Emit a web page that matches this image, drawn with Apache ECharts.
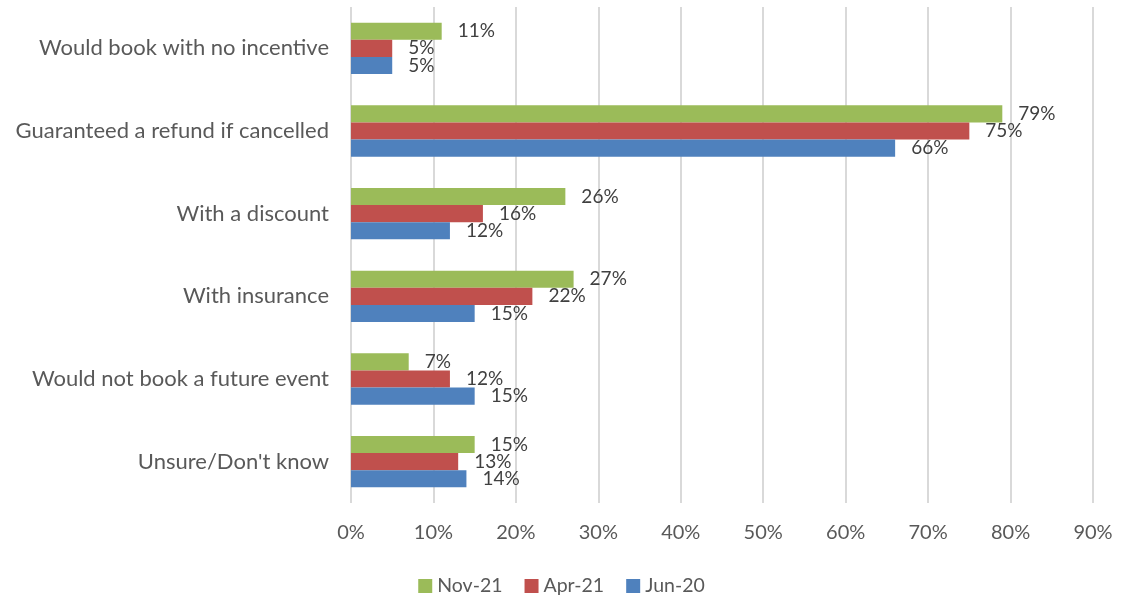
<!DOCTYPE html>
<html>
<head>
<meta charset="utf-8">
<script src="https://cdn.jsdelivr.net/npm/echarts@6/dist/echarts.min.js"></script>
<style>
  html, body { margin: 0; padding: 0; background: #fff; }
  #chart { width: 1123px; height: 605px; }
</style>
</head>
<body>
<div id="chart"></div>
<script>
// categories, top to bottom
const categories = [
  'Would book with no incentive',
  'Guaranteed a refund if cancelled',
  'With a discount',
  'With insurance',
  'Would not book a future event',
  "Unsure/Don't know"
];
const nov21 = [11, 79, 26, 27, 7, 15];
const apr21 = [5, 75, 16, 22, 12, 13];
const jun20 = [5, 66, 12, 15, 15, 14];
const xTicks = [0, 10, 20, 30, 40, 50, 60, 70, 80, 90];

const font = 'Lato';
const textColor = '#595959';

const makeSeries = (name, data, color) => ({
  name: name,
  type: 'bar',
  data: data,
  barGap: '0%',
  barCategoryGap: '38%',
  itemStyle: { color: color },
  label: {
    show: true,
    position: 'right',
    distance: 16,
    formatter: '{c}%',
    color: '#404040',
    fontFamily: font,
    fontSize: 19
  }
});

const chart = echarts.init(document.getElementById('chart'), null, { renderer: 'canvas' });
chart.setOption({
  animation: false,
  textStyle: { fontFamily: font },
  grid: { left: 351, right: 30, top: 7, bottom: 102, containLabel: false },
  legend: {
    bottom: 4,
    left: 'center',
    itemWidth: 14,
    itemHeight: 14,
    itemGap: 22,
    icon: 'rect',
    textStyle: { color: textColor, fontFamily: font, fontSize: 19.5 },
    data: ['Nov-21', 'Apr-21', 'Jun-20']
  },
  xAxis: {
    type: 'value',
    min: xTicks[0],
    max: xTicks[xTicks.length - 1],
    interval: 10,
    axisLine: { show: false },
    axisTick: { show: false },
    splitLine: { lineStyle: { color: '#d9d9d9', width: 2 } },
    axisLabel: {
      formatter: '{value}%',
      color: textColor,
      fontFamily: font,
      fontSize: 20,
      margin: 20
    }
  },
  yAxis: {
    type: 'category',
    data: categories,
    inverse: true,
    axisLine: { show: false },
    axisTick: { show: false },
    axisLabel: {
      color: textColor,
      fontFamily: font,
      fontSize: 22,
      margin: 22
    }
  },
  series: [
    makeSeries('Nov-21', nov21, '#9bbb59'),
    makeSeries('Apr-21', apr21, '#c0504d'),
    makeSeries('Jun-20', jun20, '#4f81bd')
  ]
});
</script>
</body>
</html>
